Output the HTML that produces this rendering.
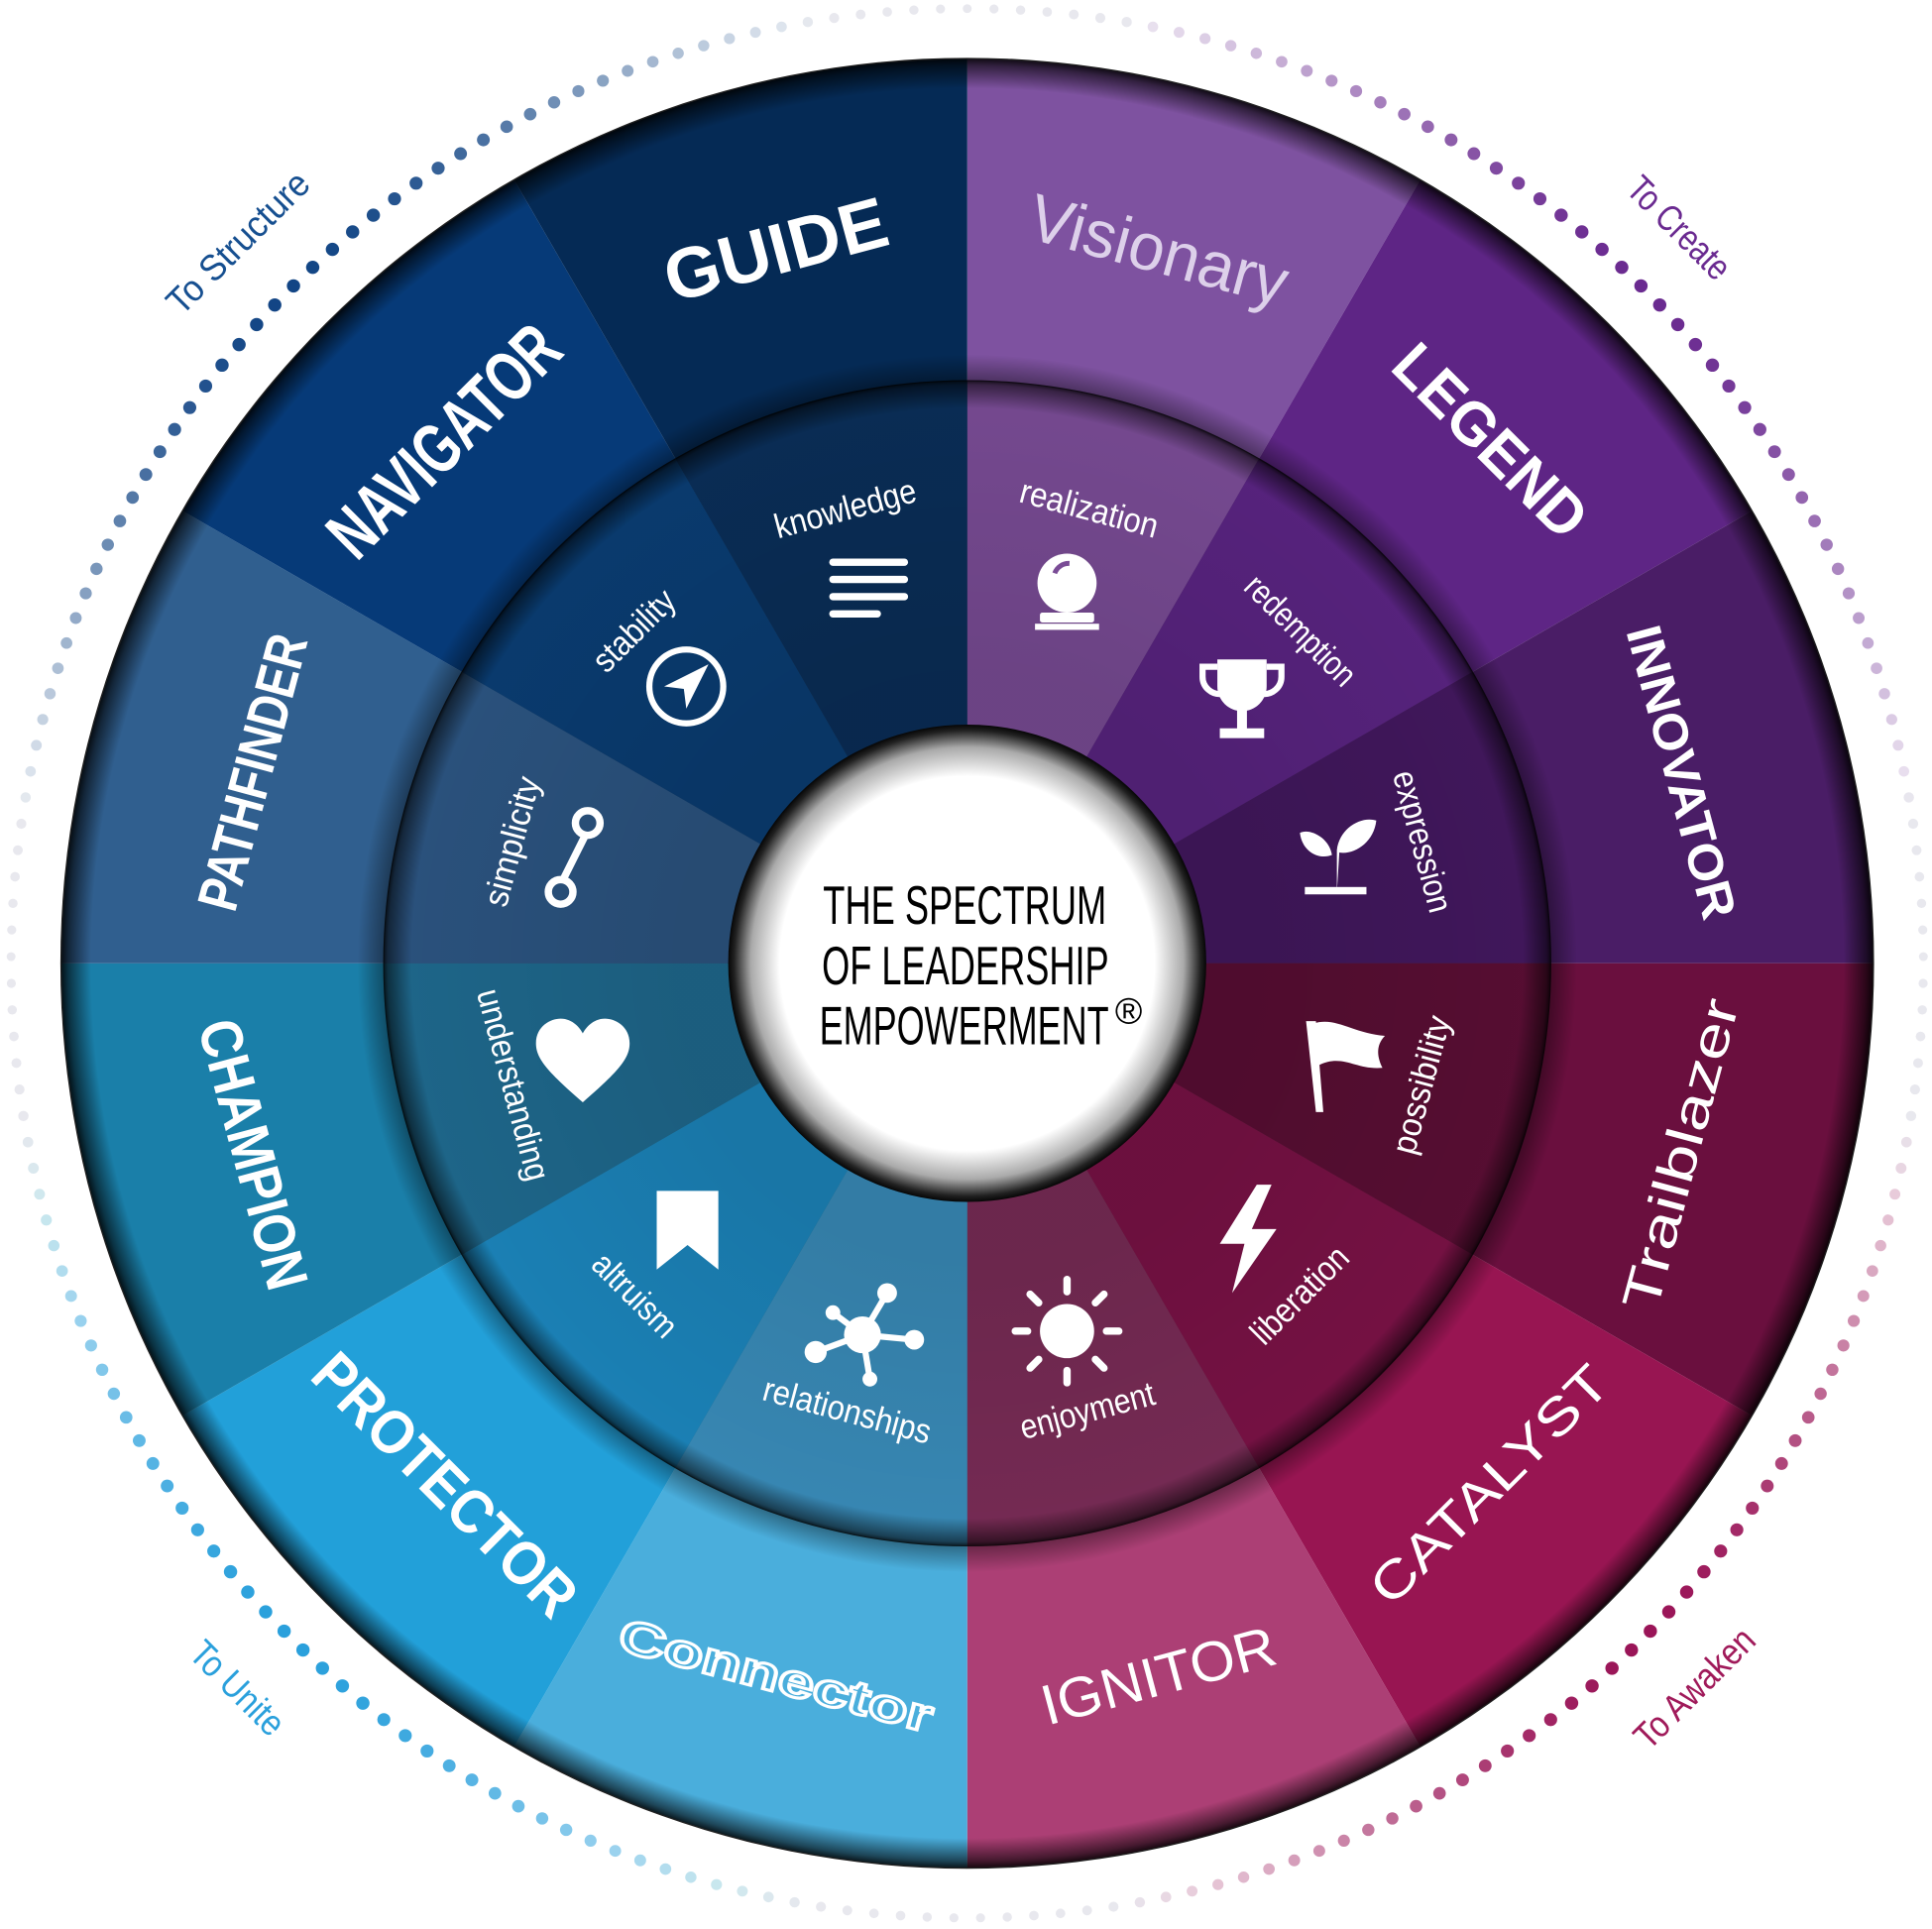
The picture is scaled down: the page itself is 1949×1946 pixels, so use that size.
<!DOCTYPE html>
<html><head><meta charset="utf-8"><style>
html,body{margin:0;padding:0;background:#fff}
svg{display:block}
text{font-family:"Liberation Sans",sans-serif}
</style></head><body>
<svg id="s" width="1949" height="1946" viewBox="0 0 1568 1568" preserveAspectRatio="none" xmlns="http://www.w3.org/2000/svg">
<defs>
<radialGradient id="og" cx="785" cy="783" r="737" gradientUnits="userSpaceOnUse">
<stop offset="0.965" stop-color="#000" stop-opacity="0"/>
<stop offset="0.99" stop-color="#000" stop-opacity="0.6"/>
<stop offset="1" stop-color="#000" stop-opacity="0.95"/>
</radialGradient>
<radialGradient id="ig" cx="785" cy="783" r="475" gradientUnits="userSpaceOnUse">
<stop offset="0.5" stop-color="#000" stop-opacity="0.12"/>
<stop offset="0.95" stop-color="#000" stop-opacity="0.05"/>
<stop offset="0.99" stop-color="#000" stop-opacity="0.55"/>
<stop offset="1" stop-color="#000" stop-opacity="0.9"/>
</radialGradient>
<radialGradient id="ig2" cx="785" cy="783" r="495" gradientUnits="userSpaceOnUse">
<stop offset="0.955" stop-color="#000" stop-opacity="0.4"/>
<stop offset="1" stop-color="#000" stop-opacity="0"/>
</radialGradient>
<radialGradient id="cg" cx="785" cy="783" r="195" gradientUnits="userSpaceOnUse">
<stop offset="0.78" stop-color="#fff"/>
<stop offset="0.9" stop-color="#aaa"/>
<stop offset="0.97" stop-color="#222"/>
<stop offset="1" stop-color="#000"/>
</radialGradient>
</defs>
<g id="dots"></g>
<path d="M785,783 L785,48 A735,735 0 0 1 1152.5,146.5 Z" fill="#7e52a0"/>
<path d="M785,783 L1152.5,146.5 A735,735 0 0 1 1421.5,415.5 Z" fill="#5e2585"/>
<path d="M785,783 L1421.5,415.5 A735,735 0 0 1 1520,783 Z" fill="#4a1d66"/>
<path d="M785,783 L1520,783 A735,735 0 0 1 1421.5,1150.5 Z" fill="#6a0f3e"/>
<path d="M785,783 L1421.5,1150.5 A735,735 0 0 1 1152.5,1419.5 Z" fill="#981552"/>
<path d="M785,783 L1152.5,1419.5 A735,735 0 0 1 785,1518 Z" fill="#ac3f75"/>
<path d="M785,783 L785,1518 A735,735 0 0 1 417.5,1419.5 Z" fill="#4aaedc"/>
<path d="M785,783 L417.5,1419.5 A735,735 0 0 1 148.5,1150.5 Z" fill="#22a0d9"/>
<path d="M785,783 L148.5,1150.5 A735,735 0 0 1 50,783 Z" fill="#1a7fa9"/>
<path d="M785,783 L50,783 A735,735 0 0 1 148.5,415.5 Z" fill="#305f8f"/>
<path d="M785,783 L148.5,415.5 A735,735 0 0 1 417.5,146.5 Z" fill="#063a78"/>
<path d="M785,783 L417.5,146.5 A735,735 0 0 1 785,48 Z" fill="#052a55"/>
<circle cx="785" cy="783" r="736" fill="url(#og)"/>
<circle cx="785" cy="783" r="495" fill="url(#ig2)"/>
<path d="M785,783 L785,310 A473,473 0 0 1 1021.5,373.4 Z" fill="#7a4c96"/>
<path d="M785,783 L1021.5,373.4 A473,473 0 0 1 1194.6,546.5 Z" fill="#5a2482"/>
<path d="M785,783 L1194.6,546.5 A473,473 0 0 1 1258,783 Z" fill="#43185f"/>
<path d="M785,783 L1258,783 A473,473 0 0 1 1194.6,1019.5 Z" fill="#5a0e34"/>
<path d="M785,783 L1194.6,1019.5 A473,473 0 0 1 1021.5,1192.6 Z" fill="#7a1246"/>
<path d="M785,783 L1021.5,1192.6 A473,473 0 0 1 785,1256 Z" fill="#7a2c57"/>
<path d="M785,783 L785,1256 A473,473 0 0 1 548.5,1192.6 Z" fill="#3a8dbb"/>
<path d="M785,783 L548.5,1192.6 A473,473 0 0 1 375.4,1019.5 Z" fill="#1c86bd"/>
<path d="M785,783 L375.4,1019.5 A473,473 0 0 1 312,783 Z" fill="#1f6a8f"/>
<path d="M785,783 L312,783 A473,473 0 0 1 375.4,546.5 Z" fill="#2c5582"/>
<path d="M785,783 L375.4,546.5 A473,473 0 0 1 548.5,373.4 Z" fill="#0a3d73"/>
<path d="M785,783 L548.5,373.4 A473,473 0 0 1 785,310 Z" fill="#0a2e58"/>
<circle cx="785" cy="783" r="474" fill="url(#ig)"/>
<circle cx="785" cy="783" r="194" fill="url(#cg)"/>
<g font-family="'Liberation Sans Narrow','Liberation Sans',sans-serif" font-size="44" fill="#000" text-anchor="start">
<text x="668" y="751" textLength="230" lengthAdjust="spacingAndGlyphs">THE SPECTRUM</text>
<text x="667" y="800" textLength="233" lengthAdjust="spacingAndGlyphs">OF LEADERSHIP</text>
<text x="665" y="849" textLength="235" lengthAdjust="spacingAndGlyphs">EMPOWERMENT</text>
<text x="905" y="832" font-size="30">®</text>
</g>
<g fill="#fff" text-anchor="middle" dominant-baseline="central" font-weight="bold">
<text transform="rotate(345 785 783)" x="785" y="183" font-size="58" textLength="185" lengthAdjust="spacingAndGlyphs">GUIDE</text>
<text transform="rotate(15 785 783)" x="785" y="183" font-size="54" font-weight="normal" fill="#ddd0ea" textLength="215" lengthAdjust="spacingAndGlyphs">Visionary</text>
<text transform="rotate(315 785 783)" x="785" y="183" font-size="58" textLength="240" lengthAdjust="spacingAndGlyphs">NAVIGATOR</text>
<text transform="rotate(45 785 783)" x="785" y="183" font-size="50" textLength="200" lengthAdjust="spacingAndGlyphs">LEGEND</text>
<text transform="rotate(285 785 783)" x="785" y="183" font-size="46" textLength="230" lengthAdjust="spacingAndGlyphs">PATHFINDER</text>
<text transform="rotate(75 785 783)" x="785" y="183" font-size="40" textLength="245" lengthAdjust="spacingAndGlyphs">INNOVATOR</text>
<text transform="rotate(75 785 783)" x="785" y="1383" font-size="48" textLength="225" lengthAdjust="spacingAndGlyphs">CHAMPION</text>
<text transform="rotate(285 785 783)" x="785" y="1383" font-size="42" font-family="'Liberation Mono',monospace" font-weight="normal" textLength="260" lengthAdjust="spacingAndGlyphs">Trailblazer</text>
<text transform="rotate(45 785 783)" x="785" y="1383" font-size="50" textLength="280" lengthAdjust="spacingAndGlyphs">PROTECTOR</text>
<text transform="rotate(315 785 783)" x="785" y="1383" font-size="42" font-weight="normal" textLength="255" lengthAdjust="spacingAndGlyphs">CATALYST</text>
<text transform="rotate(15 785 783)" x="785" y="1383" font-size="38" fill="none" stroke="#fff" stroke-width="2.5" textLength="262" lengthAdjust="spacingAndGlyphs">Connector</text>
<text transform="rotate(345 785 783)" x="785" y="1383" font-size="46" font-weight="normal" textLength="195" lengthAdjust="spacingAndGlyphs">IGNITOR</text>
</g>
<g fill="#fff" text-anchor="middle" dominant-baseline="central" font-family="'Liberation Sans Narrow','Liberation Sans',sans-serif" font-size="28">
<text transform="rotate(345 785 783)" x="785" y="401" textLength="118" lengthAdjust="spacingAndGlyphs">knowledge</text>
<text transform="rotate(15 785 783)" x="785" y="401" textLength="115" lengthAdjust="spacingAndGlyphs">realization</text>
<text transform="rotate(315 785 783)" x="785" y="401" textLength="82" lengthAdjust="spacingAndGlyphs">stability</text>
<text transform="rotate(45 785 783)" x="785" y="401" textLength="115" lengthAdjust="spacingAndGlyphs">redemption</text>
<text transform="rotate(285 785 783)" x="785" y="401" textLength="108" lengthAdjust="spacingAndGlyphs">simplicity</text>
<text transform="rotate(75 785 783)" x="785" y="401" textLength="118" lengthAdjust="spacingAndGlyphs">expression</text>
<text transform="rotate(75 785 783)" x="785" y="1165" textLength="160" lengthAdjust="spacingAndGlyphs">understanding</text>
<text transform="rotate(285 785 783)" x="785" y="1165" textLength="115" lengthAdjust="spacingAndGlyphs">possibility</text>
<text transform="rotate(45 785 783)" x="785" y="1165" textLength="85" lengthAdjust="spacingAndGlyphs">altruism</text>
<text transform="rotate(315 785 783)" x="785" y="1165" textLength="100" lengthAdjust="spacingAndGlyphs">liberation</text>
<text transform="rotate(15 785 783)" x="785" y="1160" textLength="140" lengthAdjust="spacingAndGlyphs">relationships</text>
<text transform="rotate(345 785 783)" x="785" y="1160" textLength="112" lengthAdjust="spacingAndGlyphs">enjoyment</text>
</g>
<g fill="#fff" stroke="none">
<g transform="translate(705 478)"><rect x="-32" y="-24" width="64" height="6" rx="3"/><rect x="-32" y="-10" width="64" height="6" rx="3"/><rect x="-32" y="4" width="64" height="6" rx="3"/><rect x="-32" y="18" width="42" height="6" rx="3"/></g>
<g transform="translate(866 480)"><circle cx="0" cy="-6" r="24"/><rect x="-22" y="18" width="44" height="8" rx="2"/><rect x="-26" y="27" width="52" height="5"/><path d="M-10,-14 a12,12 0 0 1 12,-8" stroke="#7a4c96" stroke-width="4" fill="none"/></g>
<g transform="translate(1008 566)"><path d="M-20,-30 H20 V-8 A20,20 0 0 1 -20,-8 Z"/><path d="M-20,-24 H-32 V-16 A14,14 0 0 0 -16,-2" stroke="#fff" stroke-width="5" fill="none"/><path d="M20,-24 H32 V-16 A14,14 0 0 1 16,-2" stroke="#fff" stroke-width="5" fill="none"/><rect x="-4" y="10" width="8" height="18"/><rect x="-18" y="26" width="36" height="8"/></g>
<g transform="translate(1085 695)"><path d="M-4,30 V0 C-6,-14 -22,-22 -30,-18 C-28,-2 -14,4 -4,0 Z"/><path d="M0,30 V-4 C2,-22 20,-32 32,-28 C30,-10 14,0 2,-2 Z"/><rect x="-26" y="26" width="50" height="6"/></g>
<g transform="translate(1090 862)"><path d="M-30,-32 L-22,42 L-16,42 L-22,-32 Z"/><path d="M-24,-30 C-6,-36 8,-22 34,-20 C26,-12 28,-2 32,6 C10,8 0,-6 -20,4 Z"/></g>
<g transform="translate(1012 1005)"><path d="M8,-42 L-22,6 L-2,6 L-12,46 L24,-6 L4,-6 L20,-42 Z"/></g>
<g transform="translate(866 1082)"><circle r="22"/><g stroke="#fff" stroke-width="6" stroke-linecap="round"><line x1="0" y1="-32" x2="0" y2="-42"/><line x1="0" y1="32" x2="0" y2="42"/><line x1="32" y1="0" x2="42" y2="0"/><line x1="-32" y1="0" x2="-42" y2="0"/><line x1="23" y1="-23" x2="30" y2="-30"/><line x1="-23" y1="-23" x2="-30" y2="-30"/><line x1="23" y1="23" x2="30" y2="30"/><line x1="-23" y1="23" x2="-30" y2="30"/></g></g>
<g transform="translate(700 1085)"><g stroke="#fff" stroke-width="5"><line x1="0" y1="0" x2="20" y2="-34"/><line x1="0" y1="0" x2="42" y2="4"/><line x1="0" y1="0" x2="-38" y2="14"/><line x1="0" y1="0" x2="-24" y2="-18"/><line x1="0" y1="0" x2="6" y2="36"/></g><circle r="15"/><circle cx="20" cy="-34" r="8"/><circle cx="42" cy="4" r="8"/><circle cx="-38" cy="14" r="9"/><circle cx="-24" cy="-18" r="6"/><circle cx="6" cy="36" r="6"/></g>
<g transform="translate(558 998)"><path d="M-25,-30 H25 V34 L0,14 L-25,34 Z"/></g>
<g transform="translate(473 862)"><path d="M0,34 C-30,8 -38,-2 -38,-14 C-38,-28 -26,-34 -18,-34 C-8,-34 -2,-26 0,-22 C2,-26 8,-34 18,-34 C26,-34 38,-28 38,-14 C38,-2 30,8 0,34 Z"/></g>
<g transform="translate(465 697)" fill="none" stroke="#fff" stroke-width="6"><circle cx="12" cy="-28" r="10"/><circle cx="-10" cy="28" r="10"/><line x1="10" y1="-18" x2="-8" y2="18"/></g>
<g transform="translate(557 558)"><circle r="30" fill="none" stroke="#fff" stroke-width="5"/><path d="M18,-18 L-18,0 L-2,2 L0,18 Z"/></g>
</g>
<g font-family="'Liberation Sans Narrow','Liberation Sans',sans-serif" font-size="30" text-anchor="middle" dominant-baseline="central">
<text transform="rotate(-45 193 197)" x="193" y="197" fill="#164f90" textLength="150" lengthAdjust="spacingAndGlyphs">To Structure</text>
<text transform="rotate(45 1363 185)" x="1363" y="185" fill="#6a2a90" textLength="105" lengthAdjust="spacingAndGlyphs">To Create</text>
<text transform="rotate(45 193 1372)" x="193" y="1372" fill="#2aa0dc" textLength="95" lengthAdjust="spacingAndGlyphs">To Unite</text>
<text transform="rotate(-45 1375 1372)" x="1375" y="1372" fill="#a01a5a" textLength="125" lengthAdjust="spacingAndGlyphs">To Awaken</text>
</g>
</svg>
<script>
(function(){
var g=document.getElementById('dots'),h='';
var cols=[[0x6a,0x2a,0x90],[0x9a,0x15,0x58],[0x2a,0xa0,0xdc],[0x12,0x45,0x85]];
for(var a=0;a<360;a+=1.6){
 var rad=a*Math.PI/180;
 var q=Math.floor(a/90)%4;
 var w=Math.abs(Math.sin(2*rad));
 var c=cols[q];
 var t=w*w;
 var r=Math.round(255+(c[0]-255)*t),gg=Math.round(255+(c[1]-255)*t),b=Math.round(255+(c[2]-255)*t);
 r=Math.min(r,232);gg=Math.min(gg,232);b=Math.min(b,238);
 var x=785+776*Math.sin(rad),y=783-776*Math.cos(rad);
 h+='<circle cx="'+x.toFixed(1)+'" cy="'+y.toFixed(1)+'" r="'+(3.6+1.8*w).toFixed(1)+'" fill="rgb('+r+','+gg+','+b+')"/>';
}
g.innerHTML=h;
})();
</script>
</body></html>
